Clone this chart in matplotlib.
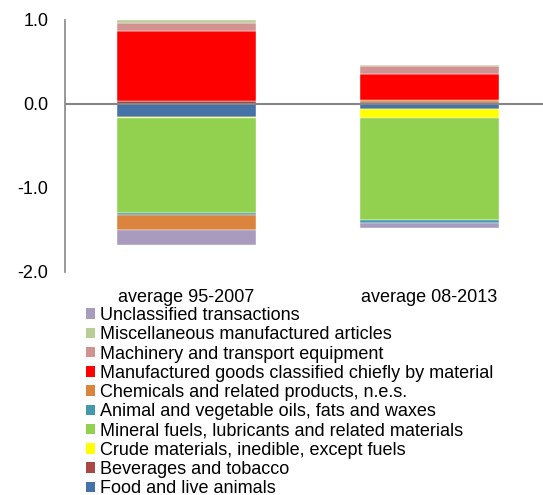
import numpy as np
import matplotlib
matplotlib.use('Agg')
import matplotlib.pyplot as plt
from matplotlib.patches import Patch

categories = ['average 95-2007', 'average 08-2013']

series_names = [
    'Food and live animals',
    'Beverages and tobacco',
    'Crude materials, inedible, except fuels',
    'Mineral fuels, lubricants and related materials',
    'Animal and vegetable oils, fats and waxes',
    'Chemicals and related products, n.e.s.',
    'Manufactured goods classified chiefly by material',
    'Machinery and transport equipment',
    'Miscellaneous manufactured articles',
    'Unclassified transactions',
]
food = [-0.15, -0.065]
beverages = [0.03, 0.026]
crude = [-0.02, -0.10]
mineral = [-1.125, -1.21]
animal = [-0.03, -0.04]
chemicals = [-0.18, 0.027]
manufactured = [0.84, 0.30]
machinery = [0.095, 0.10]
misc = [0.03, 0.01]
unclassified = [-0.17, -0.06]

series_values = [food, beverages, crude, mineral, animal, chemicals,
                 manufactured, machinery, misc, unclassified]
colors = ['#4572A7', '#AA4643', '#FFFF00', '#92D050', '#4198AF',
          '#DB843D', '#FF0000', '#D19392', '#B9CD96', '#A99BBD']

plt.rcParams['font.family'] = ['Liberation Sans', 'DejaVu Sans']
plt.rcParams['font.size'] = 13

fig = plt.figure(figsize=(5.43, 4.95), dpi=100)
W, H = 543, 495
ax = fig.add_axes([65 / W, 1 - 272 / H, (543 - 65) / W, 252 / H])

x = np.arange(len(categories))
pos_bottom = np.zeros(len(categories))
neg_bottom = np.zeros(len(categories))
for vals, col in zip(series_values, colors):
    vals = np.array(vals)
    bottoms = np.where(vals >= 0, pos_bottom, neg_bottom)
    ax.bar(x, vals, width=0.568, bottom=bottoms, color=col,
           edgecolor='white', linewidth=0.3)
    pos_bottom += np.where(vals >= 0, vals, 0)
    neg_bottom += np.where(vals < 0, vals, 0)

ax.axhline(0, color='#868686', linewidth=1.5, zorder=3)
ax.set_ylim(-2, 1)
ax.set_xlim(-0.5, -0.5 + 478 / 243)
ax.set_yticks([-2, -1, 0, 1])
ax.set_yticklabels(['-2.0', '-1.0', '0.0', '1.0'])
ax.set_xticks(x)
ax.set_xticklabels(categories)
ax.tick_params(axis='y', length=0, pad=12)
ax.tick_params(axis='x', length=0, pad=12)
for s in ['top', 'right', 'bottom']:
    ax.spines[s].set_visible(False)
ax.spines['left'].set_color('#868686')
ax.spines['left'].set_linewidth(1.2)

handles = [Patch(facecolor=c, edgecolor='none') for c in colors]
fig.legend(handles[::-1], series_names[::-1], loc='upper left',
           bbox_to_anchor=(86 / W, 1 - 307 / H), frameon=False,
           handlelength=0.5, handleheight=0.5, handletextpad=0.3,
           labelspacing=0.125, borderpad=0, borderaxespad=0)

fig.savefig('out.png', dpi=100)
